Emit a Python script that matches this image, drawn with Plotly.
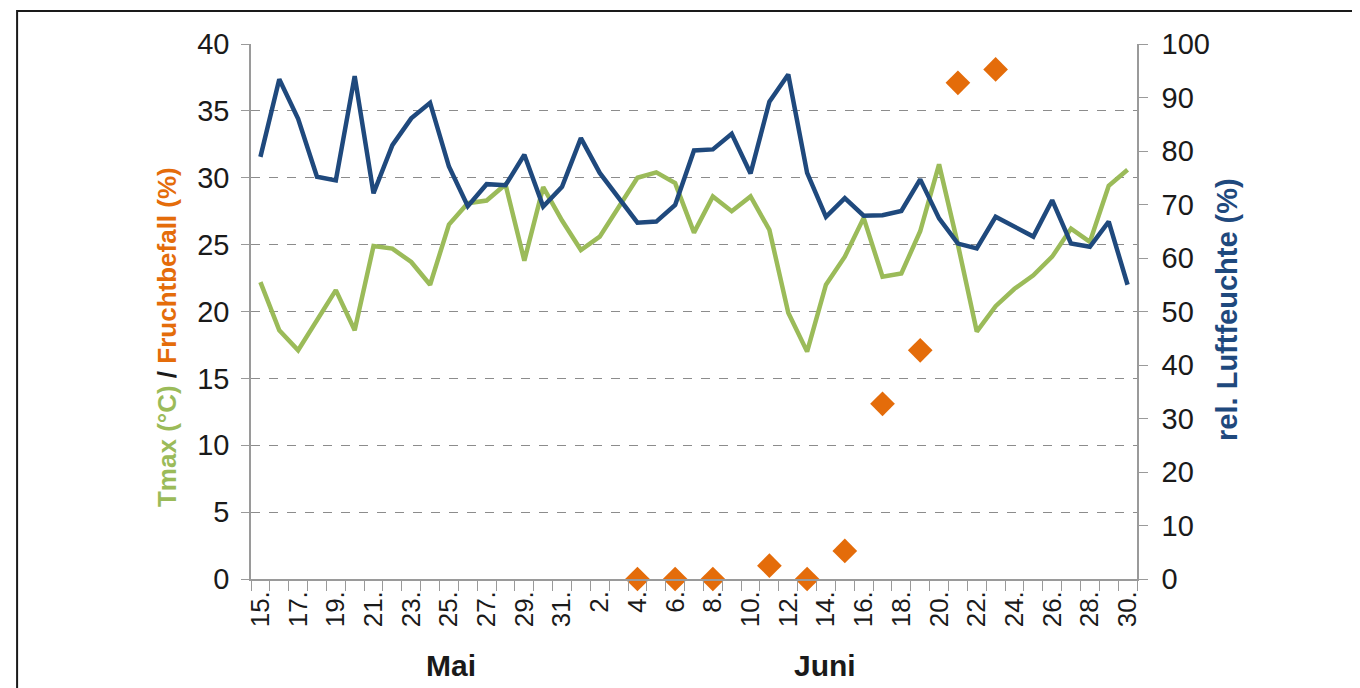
import plotly.graph_objects as go

# Tage 15. Mai - 30. Juni
tage = [f"{d:02d}.05." for d in range(15, 32)] + [f"{d:02d}.06." for d in range(1, 31)]
tick_text = [f"{int(t[:2])}." if i % 2 == 0 else "" for i, t in enumerate(tage)]

tmax = [22.2, 18.6, 17.1, 19.4, 21.6, 18.6, 24.9, 24.7, 23.7, 22.0,
        26.5, 28.1, 28.3, 29.5, 23.8, 29.3, 26.8, 24.6, 25.6, 27.8,
        30.0, 30.4, 29.6, 25.9, 28.6, 27.5, 28.6, 26.1, 19.9, 17.0,
        22.0, 24.1, 27.0, 22.6, 22.85, 26.0, 31.0, 25.0, 18.5, 20.4,
        21.7, 22.7, 24.1, 26.2, 25.2, 29.4, 30.6]

luftfeuchte = [78.9, 93.4, 86.0, 75.2, 74.5, 94.0, 72.1, 81.1, 86.1, 89.0,
               77.1, 69.7, 73.8, 73.6, 79.3, 69.6, 73.3, 82.4, 75.9, 71.4,
               66.6, 66.8, 69.9, 80.1, 80.3, 83.2, 75.8, 89.2, 94.3, 75.9,
               67.7, 71.2, 67.9, 68.0, 68.8, 74.7, 67.4, 62.7, 61.8, 67.7,
               65.9, 64.0, 70.8, 62.7, 62.1, 66.8, 55.0]

# Fruchtbefall (%) nur an einzelnen Tagen erhoben
befall_tage = ["04.06.", "06.06.", "08.06.", "11.06.", "13.06.", "15.06.",
               "17.06.", "19.06.", "21.06.", "23.06."]
befall = [0, 0, 0, 1.0, 0, 2.1, 13.1, 17.1, 37.1, 38.1]

GRUEN = "#9BBB59"
BLAU = "#1F497D"
ORANGE = "#E46C0A"

fig = go.Figure()
fig.add_trace(go.Scatter(x=tage, y=luftfeuchte, mode="lines", yaxis="y2",
                         line=dict(color=BLAU, width=4.5), name="rel. Luftfeuchte"))
fig.add_trace(go.Scatter(x=tage, y=tmax, mode="lines",
                         line=dict(color=GRUEN, width=4.5), name="Tmax"))
fig.add_trace(go.Scatter(x=befall_tage, y=befall, mode="markers",
                         marker=dict(symbol="diamond", color=ORANGE, size=19),
                         name="Fruchtbefall", cliponaxis=False))

fig.update_layout(
    width=1360, height=688,
    margin=dict(l=243, r=231, t=36, b=117),
    paper_bgcolor="white", plot_bgcolor="white",
    showlegend=False,
    font=dict(family="Liberation Sans, Arial, sans-serif", color="#1a1a1a"),
    xaxis=dict(
        type="category", categoryorder="array", categoryarray=tage,
        range=[-0.5, len(tage) - 0.5],
        tickmode="array", tickvals=tage, ticktext=tick_text,
        tickson="boundaries", ticks="outside", ticklen=10, tickcolor="#9a9a9a",
        tickangle=-90, tickfont=dict(size=26),
        showline=True, linecolor="#9a9a9a", linewidth=1.5,
        showgrid=False, zeroline=False,
    ),
    yaxis=dict(
        range=[0, 40], dtick=5, ticks="outside", ticklen=8, tickcolor="#9a9a9a",
        tickfont=dict(size=29), ticklabelstandoff=6,
        showline=True, linecolor="#9a9a9a", linewidth=1.5,
        showgrid=True, gridcolor="#8c8c8c", griddash="dash", gridwidth=1,
        zeroline=False,
    ),
    yaxis2=dict(
        range=[0, 100], dtick=10, overlaying="y", side="right",
        ticks="outside", ticklen=9, tickcolor="#9a9a9a",
        tickfont=dict(size=29), ticklabelstandoff=8,
        showline=True, linecolor="#9a9a9a", linewidth=1.5,
        showgrid=False, zeroline=False,
    ),
)

fig.add_annotation(
    text=(f"<b><span style='color:{GRUEN}'>Tmax (°C)</span> / "
          f"<span style='color:{ORANGE}'>Fruchtbefall (%)</span></b>"),
    xref="paper", yref="paper", x=-0.095, y=0.452, textangle=-90,
    xanchor="center", yanchor="middle",
    showarrow=False, font=dict(size=26, color="#1a1a1a"))
fig.add_annotation(
    text="<b>rel. Luftfeuchte (%)</b>",
    xref="paper", yref="paper", x=1.1016, y=0.503, textangle=-90,
    xanchor="center", yanchor="middle",
    showarrow=False, font=dict(size=29, color=BLAU))
fig.add_annotation(text="<b>Mai</b>", xref="paper", yref="paper",
                   x=0.2257, y=-0.161, xanchor="center", yanchor="middle",
                   showarrow=False, font=dict(size=30))
fig.add_annotation(text="<b>Juni</b>", xref="paper", yref="paper",
                   x=0.648, y=-0.161, xanchor="center", yanchor="middle",
                   showarrow=False, font=dict(size=30))

# Rahmen um das Diagramm
fig.add_shape(type="rect", xref="paper", yref="paper",
              x0=-0.264, y0=-0.4, x1=1.4, y1=1.0617,
              line=dict(color="#1a1a1a", width=2), layer="below")

fig.write_html("out.html")
